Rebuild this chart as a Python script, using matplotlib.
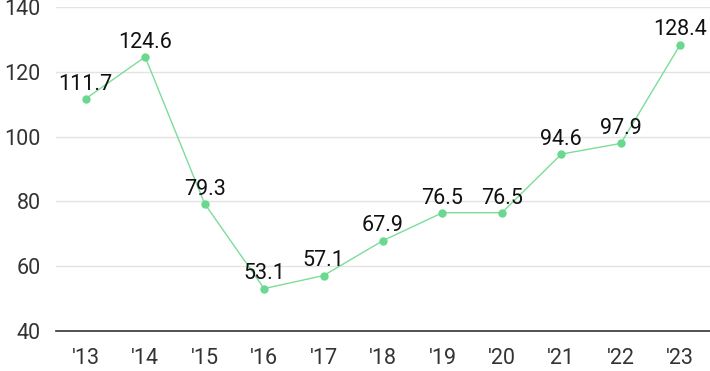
import matplotlib
matplotlib.use("Agg")
import matplotlib.pyplot as plt

years = ["'13", "'14", "'15", "'16", "'17", "'18", "'19", "'20", "'21", "'22", "'23"]
values = [111.7, 124.6, 79.3, 53.1, 57.1, 67.9, 76.5, 76.5, 94.6, 97.9, 128.4]
yticks = [40, 60, 80, 100, 120, 140]

plt.rcParams['font.family'] = ['Roboto', 'DejaVu Sans']

fig = plt.figure(figsize=(7.1, 3.71), dpi=100)
ax = fig.add_axes([56 / 710, 1 - 331 / 371, 654 / 710, 324 / 371])

x = list(range(len(years)))
ax.plot(x, values, color='#7ddc9a', linewidth=1, marker='o', markersize=5,
        markerfacecolor='#6ad88e', markeredgecolor='#6ad88e', zorder=3, clip_on=False)

for xi, v in zip(x, values):
    ax.annotate(f"{v:.1f}", (xi, v), xytext=(0, 3), textcoords='offset points',
                ha='center', va='bottom', fontsize=15.5, color='#111111', zorder=4)

ax.set_xlim(-0.5, len(years) - 0.5)
ax.set_ylim(40, 140)
ax.set_yticks(yticks)
ax.set_xticks(x)
ax.set_xticklabels(years)
ax.grid(axis='y', color='#e3e3e3', linewidth=1)
ax.set_axisbelow(True)
for s in ['left', 'right', 'top']:
    ax.spines[s].set_visible(False)
ax.spines['bottom'].set_color('#333333')
ax.spines['bottom'].set_linewidth(1.2)
ax.tick_params(axis='both', length=0, labelsize=15.5, colors='#333333')
ax.tick_params(axis='y', pad=11)
ax.tick_params(axis='x', pad=12)

fig.savefig('out.png', dpi=100)
